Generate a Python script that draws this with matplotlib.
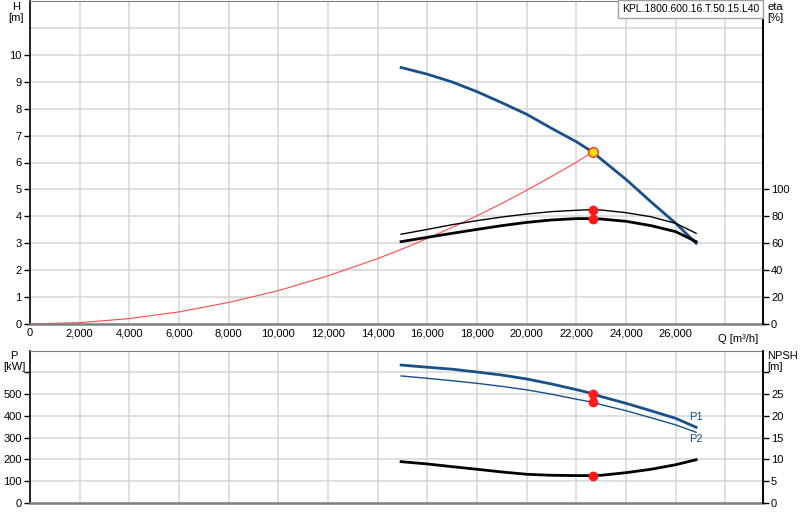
import matplotlib
matplotlib.use("Agg")
import matplotlib.pyplot as plt

plt.rcParams["font.family"] = ["Liberation Sans", "DejaVu Sans"]
plt.rcParams["font.size"] = 8

title = "KPL.1800.600.16.T.50.15.L40"

# pump curves, Q in m3/h
q_pump = [14940, 16000, 17000, 18000, 19000, 20000, 21000, 22000, 22650,
          23000, 24000, 25000, 26000, 26820]
head = [9.53, 9.28, 8.99, 8.63, 8.22, 7.79, 7.27, 6.77, 6.39,
        6.12, 5.37, 4.54, 3.74, 3.0]
eta_lo = [61.2, 64.4, 67.4, 70.3, 73.1, 75.5, 77.3, 78.3, 78.3,
          78.0, 76.3, 73.1, 68.6, 61.2]
eta_hi = [66.7, 70.3, 73.8, 76.8, 79.5, 81.7, 83.5, 84.5, 85.0,
          84.7, 82.7, 79.7, 74.8, 67.4]
p1 = [634, 624, 615, 602, 588, 570, 547, 521, 503,
      489, 458, 424, 389, 348]
p2 = [584, 573, 562, 550, 536, 520, 500, 477, 463,
      452, 424, 392, 359, 325]
npsh = [9.5, 8.97, 8.35, 7.75, 7.13, 6.6, 6.37, 6.3, 6.3,
        6.37, 6.97, 7.75, 8.8, 9.95]

# system curve
q_sys = [0, 2000, 4000, 6000, 8000, 10000, 12000, 14000, 15000, 16000,
         17000, 18000, 19000, 20000, 21000, 22000, 22650]
h_sys = [0, 0.05, 0.2, 0.45, 0.8, 1.24, 1.79, 2.43, 2.79, 3.18,
         3.59, 4.02, 4.48, 4.97, 5.48, 6.01, 6.39]

# duty point
q_duty = 22650
h_duty = 6.39
eta_duty = [78.3, 85.0]
p_duty = [503, 463]
npsh_duty = 6.3

blue = "#17508a"
grid_c = "#d6d6d6"
W, H = 800, 520
left, right = 30, 762.7

fig = plt.figure(figsize=(8, 5.2), dpi=100)
ax1 = fig.add_axes([left / W, 1 - 324 / H, (right - left) / W, 323 / H])
ax2 = fig.add_axes([left / W, 1 - 503 / H, (right - left) / W, 152.3 / H])

xt = list(range(0, 30000, 2000))
for ax in (ax1, ax2):
    ax.set_xlim(0, 29500)
    ax.set_xticks(xt)
    ax.grid(True, color=grid_c, lw=1.1)
    ax.set_axisbelow(True)
    ax.spines["left"].set_color("black")
    ax.spines["left"].set_linewidth(1.2)
    ax.spines["right"].set_color("black")
    ax.spines["right"].set_linewidth(1.2)
    ax.spines["top"].set_color("#808080")
    ax.spines["bottom"].set_color("#808080")
    ax.spines["bottom"].set_linewidth(1.8)
    ax.tick_params(axis="x", length=0)
    ax.tick_params(axis="y", length=4, width=1, pad=2)

ax1.set_xticklabels([f"{v:,}" if v < 28000 else "" for v in xt])
ax1.tick_params(axis="x", pad=3)
ax2.set_xticklabels([])

# --- top panel
ax1.set_ylim(0, 12)
ax1.set_yticks(range(11))
ax1.set_yticks([11], minor=True)
ax1.tick_params(axis="y", which="minor", length=0)
ax1.grid(True, which="minor", axis="y", color=grid_c, lw=1.1)
ax1.plot(q_sys, h_sys, color="#ff4a4a", lw=0.8)
ax1.plot(q_pump, head, color=blue, lw=2)
ax1.plot(q_duty, h_duty, "o", ms=7, mfc="#ffe000", mec="#ff3030", mew=1)

ax1r = ax1.twinx()
ax1r.set_ylim(0, 240)
ax1r.set_yticks(range(0, 120, 20))
ax1r.tick_params(axis="y", length=4, width=1, pad=2)
for s in ax1r.spines.values():
    s.set_visible(False)
ax1r.spines["right"].set_visible(True)
ax1r.spines["right"].set_linewidth(1.2)
ax1r.plot(q_pump, eta_hi, color="black", lw=1)
ax1r.plot(q_pump, eta_lo, color="black", lw=2)
ax1r.plot([q_duty, q_duty], eta_duty, "o", ms=6, color="#ff1a1a", ls="none")

ax1.text(28500, -0.38, "Q [m³/h]", ha="center", va="top")

# --- bottom panel
ax2.set_ylim(0, 700)
ax2.set_yticks(range(0, 700, 100))
ax2.set_yticklabels([str(v) if v <= 500 else "" for v in range(0, 700, 100)])
ax2.plot(q_pump, p1, color=blue, lw=2)
ax2.plot(q_pump, p2, color=blue, lw=1)
ax2.plot([q_duty, q_duty], p_duty, "o", ms=6, color="#ff1a1a", ls="none")
ax2.text(26800, 393, "P1", color=blue, ha="center", va="center")
ax2.text(26800, 296, "P2", color=blue, ha="center", va="center")

ax2r = ax2.twinx()
ax2r.set_ylim(0, 35)
ax2r.set_yticks(range(0, 35, 5))
ax2r.set_yticklabels([str(v) if v <= 25 else "" for v in range(0, 35, 5)])
ax2r.tick_params(axis="y", length=4, width=1, pad=2)
for s in ax2r.spines.values():
    s.set_visible(False)
ax2r.spines["right"].set_visible(True)
ax2r.spines["right"].set_linewidth(1.2)
ax2r.plot(q_pump, npsh, color="black", lw=2)
ax2r.plot(q_duty, npsh_duty, "o", ms=6, color="#ff1a1a")

# axis captions
fig.text(16 / W, 1 - 2 / H, "H\n[m]", ha="center", va="top", linespacing=1.1)
fig.text(767 / W, 1 - 2 / H, "eta\n[%]", ha="left", va="top", linespacing=1.1)
fig.text(14 / W, 1 - 351 / H, "P\n[kW]", ha="center", va="top", linespacing=1.1)
fig.text(767 / W, 1 - 351 / H, "NPSH\n[m]", ha="left", va="top", linespacing=1.1)

fig.text(759 / W, 1 - 9 / H, title, ha="right", va="center", fontsize=7.5,
         bbox=dict(boxstyle="square,pad=0.35", fc="white", ec="#a0a0a0", lw=1))

fig.savefig("out.png", dpi=100)
